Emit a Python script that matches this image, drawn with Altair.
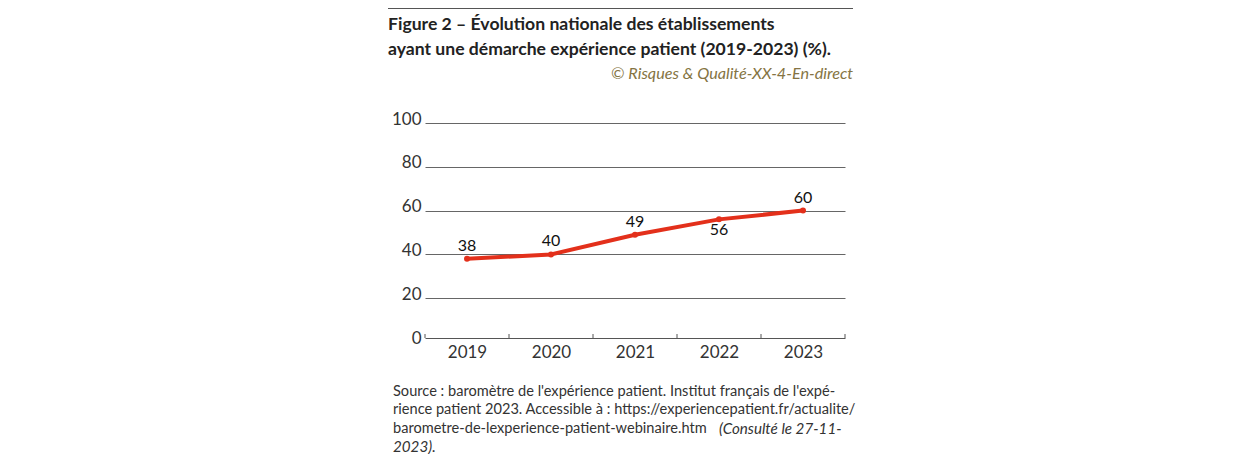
import altair as alt
import pandas as pd

years = [2019, 2020, 2021, 2022, 2023]
values = [38, 40, 49, 56, 60]
below_years = [2022]
boundaries = [2018.5, 2019.5, 2020.5, 2021.5, 2022.5, 2023.5]
y_ticks = [0, 20, 40, 60, 80, 100]

title1 = "Figure 2 – Évolution nationale des établissements"
title2 = "ayant une démarche expérience patient (2019-2023) (%)."
subtitle = "© Risques & Qualité-XX-4-En-direct"
source_lines = [
    "Source : baromètre de l'expérience patient. Institut français de l'expé-",
    "rience patient 2023. Accessible à : https://experiencepatient.fr/actualite/",
    "barometre-de-lexperience-patient-webinaire.htm",
]
source_italic_3 = "(Consulté le 27-11-"
source_italic_4 = "2023)."

FONT = "Lato"
W, H = 420, 219
RED = "#e3301b"

df = pd.DataFrame({"year": years, "value": values})
df["below"] = df["year"].isin(below_years)
bdf = pd.DataFrame({"b": boundaries})

xscale = alt.Scale(domain=[2018.5, 2023.5], nice=False, zero=False)
yscale = alt.Scale(domain=[0, 100], nice=False)

base = alt.Chart(df)

line = base.mark_line(color=RED, strokeWidth=4).encode(
    x=alt.X("year:Q", scale=xscale,
            axis=alt.Axis(values=years, format="d", title=None, grid=False,
                          ticks=False, domain=True, domainColor="#555",
                          domainWidth=1, offset=-4, labelPadding=6,
                          labelFontSize=17, labelColor="#333", labelFont=FONT)),
    y=alt.Y("value:Q", scale=yscale,
            axis=alt.Axis(values=y_ticks, title=None, domain=False, ticks=False,
                          grid=True, gridColor="#666", gridWidth=1,
                          gridOpacity={"condition": {"test": "datum.value === 0", "value": 0}, "value": 1},
                          labelPadding=4, labelOffset=-4, labelFontSize=17,
                          labelColor="#333", labelFont=FONT)),
)
pts = base.mark_circle(color=RED, size=36, opacity=1).encode(x="year:Q", y="value:Q")

lab_above = base.transform_filter("!datum.below").mark_text(
    dy=-13, fontSize=16, font=FONT, color="#111").encode(
    x="year:Q", y="value:Q", text="value:Q")
lab_below = base.transform_filter("datum.below").mark_text(
    dy=11, fontSize=16, font=FONT, color="#111").encode(
    x="year:Q", y="value:Q", text="value:Q")

ticks = alt.Chart(bdf).mark_rule(color="#555", strokeWidth=1).encode(
    x=alt.X("b:Q", scale=xscale), y=alt.value(H - 8), y2=alt.value(H - 4))

def txt(s, x, y, align="left", **kw):
    return alt.Chart(pd.DataFrame({"t": [s]})).mark_text(
        align=align, baseline="middle", font=FONT, **kw).encode(
        x=alt.value(x), y=alt.value(y), text="t:N")

top_rule = alt.Chart(pd.DataFrame({"a": [0]})).mark_rule(color="#555", strokeWidth=1).encode(
    x=alt.value(-37), x2=alt.value(428), y=alt.value(-114.5))

SRC = 14.6
layers = [
    top_rule,
    txt(title1, -37, -98, fontSize=17.6, fontWeight="bold", color="#222"),
    txt(title2, -37, -73, fontSize=17.6, fontWeight="bold", color="#222"),
    txt(subtitle, 428, -49, align="right", fontSize=16.2, fontStyle="italic", color="#857443"),
    txt(source_lines[0], -32, 269, fontSize=SRC, color="#333"),
    txt(source_lines[1], -32, 287, fontSize=SRC, color="#333"),
    txt(source_lines[2], -32, 306, fontSize=SRC, color="#333"),
    txt(source_italic_3, 294, 306, fontSize=15.2, fontStyle="italic", color="#333"),
    txt(source_italic_4, -32, 324, fontSize=15.2, fontStyle="italic", color="#333"),
    line, pts, ticks, lab_above, lab_below,
]

chart = alt.layer(*layers).properties(
    width=W, height=H,
    background="white",
    autosize=alt.AutoSizeParams(type="none"),
    padding={"left": 417, "top": 115, "right": 387, "bottom": 112},
).configure_view(strokeWidth=0, stroke="transparent")

chart.save("out.html", embed_options={"renderer": "svg", "actions": False})
